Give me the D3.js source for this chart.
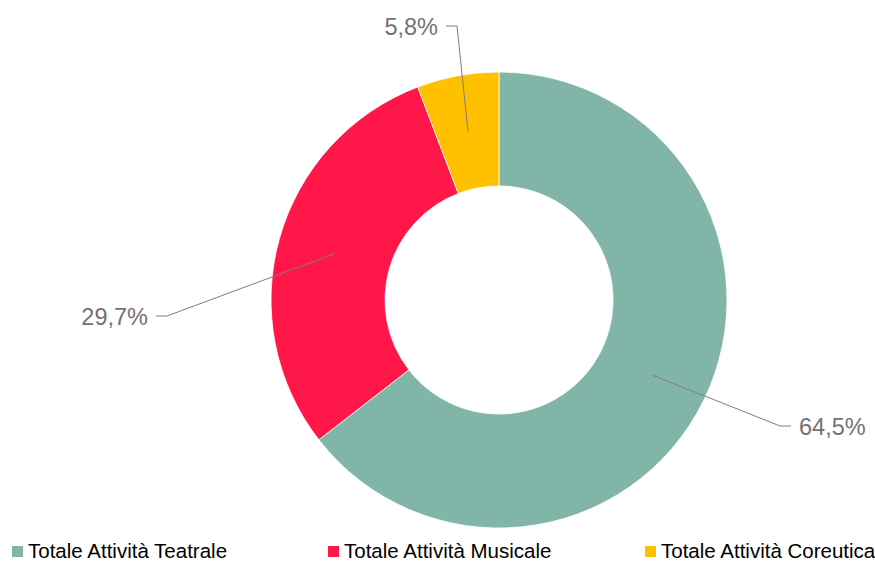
<!DOCTYPE html>
<html>
<head>
<meta charset="utf-8">
<script src="https://cdn.jsdelivr.net/npm/d3@7"></script>
<style>
  body { margin: 0; background: #fff; }
  svg { display: block; font-family: "Liberation Sans", Arial, sans-serif; }
</style>
</head>
<body>
<div id="chart"></div>
<script>
// data
const categories = ['Totale Attività Teatrale', 'Totale Attività Musicale', 'Totale Attività Coreutica'];
const values = [64.5, 29.7, 5.8];
const labels = ['64,5%', '29,7%', '5,8%'];
const colors = ['#80B5A7', '#FF174A', '#FFC000'];

const width = 875, height = 561;
const cx = 499, cy = 300;
const outerR = 228, innerR = 114;

// manual label placement (elbow relative to center, direction of tail)
const elbows = [[281, 126, 1], [-332, 16, -1], [-42, -274, -1]];

const svg = d3.select('#chart').append('svg')
    .attr('width', width)
    .attr('height', height);

const g = svg.append('g').attr('transform', `translate(${cx},${cy})`);

const pie = d3.pie().sort(null).value(d => d);
const arcs = pie(values);

const arc = d3.arc().innerRadius(innerR).outerRadius(outerR);
const midArc = d3.arc().innerRadius((innerR + outerR) / 2).outerRadius((innerR + outerR) / 2);

g.selectAll('path.slice')
    .data(arcs)
    .enter()
    .append('path')
    .attr('class', 'slice')
    .attr('d', arc)
    .attr('fill', (d, i) => colors[i])
    .attr('stroke', '#fff')
    .attr('stroke-width', 0.8);

// leader lines
arcs.forEach((d, i) => {
    const start = midArc.centroid(d);
    const [ex, ey, dir] = elbows[i];
    const tailX = ex + dir * 11;
    g.append('polyline')
        .attr('points', [start, [ex, ey], [tailX, ey]].map(p => p.join(',')).join(' '))
        .attr('fill', 'none')
        .attr('stroke', '#7f7f7f')
        .attr('stroke-width', 1);
    g.append('text')
        .attr('x', tailX + dir * 8)
        .attr('y', ey + 8.5)
        .attr('text-anchor', dir > 0 ? 'start' : 'end')
        .attr('font-size', 23.5)
        .attr('fill', '#767171')
        .text(labels[i]);
});

// legend
const legendX = [12, 328, 645];
const legend = svg.selectAll('g.legend')
    .data(categories)
    .enter()
    .append('g')
    .attr('class', 'legend')
    .attr('transform', (d, i) => `translate(${legendX[i]},546)`);

legend.append('rect')
    .attr('width', 11)
    .attr('height', 11)
    .attr('fill', (d, i) => colors[i]);

legend.append('text')
    .attr('x', 16)
    .attr('y', 12)
    .attr('font-size', 20.5)
    .attr('fill', '#000')
    .text(d => d);
</script>
</body>
</html>
